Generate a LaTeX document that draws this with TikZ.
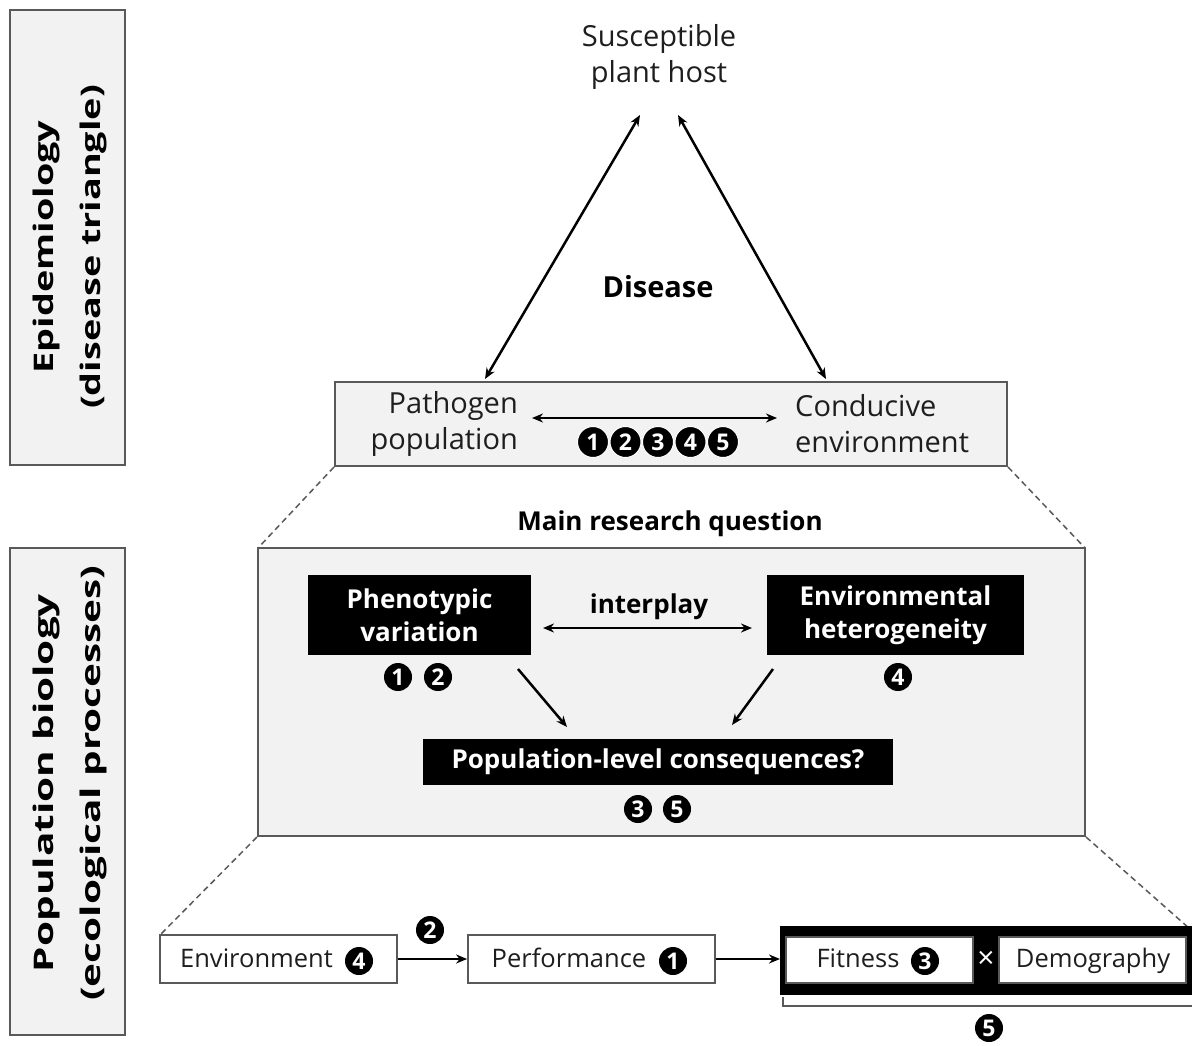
\documentclass[tikz,border=0pt]{standalone}
\usepackage{fontspec}
\usepackage{graphicx}
\setmainfont{Open Sans}
\usetikzlibrary{arrows.meta}
\definecolor{boxfill}{HTML}{F2F2F2}
\definecolor{boxline}{HTML}{595959}
\definecolor{txt}{HTML}{1E1E1E}
\tikzset{
  graybox/.style={draw=boxline, line width=2pt, fill=boxfill, inner sep=0pt},
  blackbox/.style={fill=black, text=white, inner sep=0pt, font=\fontsize{26}{33}\selectfont\bfseries, align=center},
  whitebox/.style={draw=boxline, line width=1.8pt, fill=white, inner sep=0pt},
  reg/.style={text=txt, font=\fontsize{29}{36}\selectfont, inner sep=0pt},
  regb/.style={text=txt, font=\fontsize{25.5}{30}\selectfont, inner sep=0pt, text height=18.5pt, text depth=5pt},
  bld/.style={text=black, font=\fontsize{26}{30}\selectfont\bfseries, inner sep=0pt},
  side/.style={text=black, font=\fontsize{27}{47}\selectfont\bfseries, rotate=90, inner sep=0pt},
  num/.style={circle, fill=black, text=white, minimum size=28pt, inner sep=0pt, font=\fontsize{23}{23}\selectfont\bfseries},
  numt/.style={num, draw=white, line width=1pt, minimum size=31pt},
  arr/.style={line width=2.5pt, -{Stealth[length=11pt,width=9pt]}},
  darr/.style={line width=2.5pt, {Stealth[length=11pt,width=9pt]}-{Stealth[length=11pt,width=9pt]}},
  dsh/.style={line width=1.5pt, draw=boxline, dash pattern=on 6pt off 4pt},
}
\begin{document}
\begin{tikzpicture}[x=1pt,y=-1pt]
\useasboundingbox (0,0) rectangle (1192,1045);
% side panels
\node[graybox, minimum width=115pt, minimum height=455pt] (side1) at (67.5,237.5) {};
\node[side] (side1t) at (67.5,247) {\scalebox{1.4}[1]{\begin{tabular}{@{}c@{}}Epidemiology\\(disease triangle)\end{tabular}}};
\node[graybox, minimum width=115pt, minimum height=487pt] (side2) at (67.5,791.5) {};
\node[side] (side2t) at (67.5,783) {\scalebox{1.5}[1]{\begin{tabular}{@{}c@{}}Population biology\\(ecological processes)\end{tabular}}};
% disease triangle
\node[reg, align=center] (host) at (659,57) {Susceptible\\plant host};
\node[bld, font=\fontsize{29}{30}\selectfont\bfseries] (disease) at (658,287) {Disease};
\node[graybox, minimum width=672pt, minimum height=84pt] (top) at (671,424) {};
\node[reg, align=right, anchor=east] (patho) at (518,424) {Pathogen\\population};
\node[reg, align=left, anchor=west] (cond) at (795,424) {Conducive\\environment};
\coordinate (hL) at (640,115);
\coordinate (hR) at (678,115);
\coordinate (tL) at (485,379);
\coordinate (tR) at (826,379);
\draw[darr] (hL) -- (tL);
\draw[darr] (hR) -- (tR);
\coordinate (pa) at (532,418);
\coordinate (ca) at (777,418);
\draw[darr] (pa) -- (ca);
\node[numt] (t1) at (593,442) {1};
\node[numt] (t2) at (625.5,442) {2};
\node[numt] (t3) at (658,442) {3};
\node[numt] (t4) at (690.5,442) {4};
\node[numt] (t5) at (723,442) {5};
% zoom lines
\draw[dsh] (top.south west) -- (258,548);
\draw[dsh] (top.south east) -- (1085,548);
% main research question
\node[bld] (mrq) at (670,524) {Main research question};
\node[graybox, minimum width=827pt, minimum height=288pt] (mid) at (671.5,692) {};
\node[blackbox, minimum width=223pt, minimum height=80pt] (pheno) at (419.5,615) {Phenotypic\\variation};
\node[blackbox, minimum width=257pt, minimum height=80pt] (envh) at (895.5,615) {Environmental\\heterogeneity};
\node[bld] (inter) at (649,607) {interplay};
\coordinate (ia) at (543,628);
\coordinate (ib) at (752,628);
\draw[darr] (ia) -- (ib);
\node[num] (m1) at (398,677) {1};
\node[num] (m2) at (438,677) {2};
\node[num] (m4) at (898,677) {4};
\node[blackbox, minimum width=470pt, minimum height=46pt] (pop) at (658,762) {Population-level consequences?};
\coordinate (a1s) at (518,669);
\coordinate (a1e) at (567,727);
\coordinate (a2s) at (773,669);
\coordinate (a2e) at (732,725);
\draw[arr] (a1s) -- (a1e);
\draw[arr] (a2s) -- (a2e);
\node[num] (m3) at (638,809) {3};
\node[num] (m5) at (677,809) {5};
% zoom lines 2
\draw[dsh] (mid.south west) -- (160,935);
\draw[dsh] (mid.south east) -- (1190,929);
% bottom row
\node[whitebox, minimum width=237pt, minimum height=48pt] (envb) at (278.5,959) {};
\node[regb] (envt) at (256.5,961) {Environment};
\node[num] (b4) at (359,961) {4};
\node[num] (b2) at (430,930) {2};
\node[whitebox, minimum width=247pt, minimum height=48pt] (perf) at (591.5,959) {};
\node[regb] (perft) at (569,961) {Performance};
\node[num] (b1) at (673,961) {1};
\fill[black] (780,926) rectangle (1192,995);
\node[whitebox, minimum width=187pt, minimum height=46pt] (fit) at (879.5,960) {};
\node[regb] (fitt) at (858,961) {Fitness};
\node[num] (b3) at (925,961) {3};
\node[text=white, font=\fontsize{30}{30}\selectfont, inner sep=0pt] (times) at (986,960) {×};
\node[whitebox, minimum width=187pt, minimum height=46pt] (demo) at (1092.5,960) {};
\node[regb] (demot) at (1093,961) {Demography};
\coordinate (fitin) at (780,959);
\draw[arr] (envb.east) -- (perf.west);
\draw[arr] (perf.east) -- (fitin);
\draw[line width=1.8pt, draw=boxline] (783,997) -- (783,1006) -- (1192,1006);
\node[num] (b5) at (989,1028) {5};
\end{tikzpicture}
\end{document}
